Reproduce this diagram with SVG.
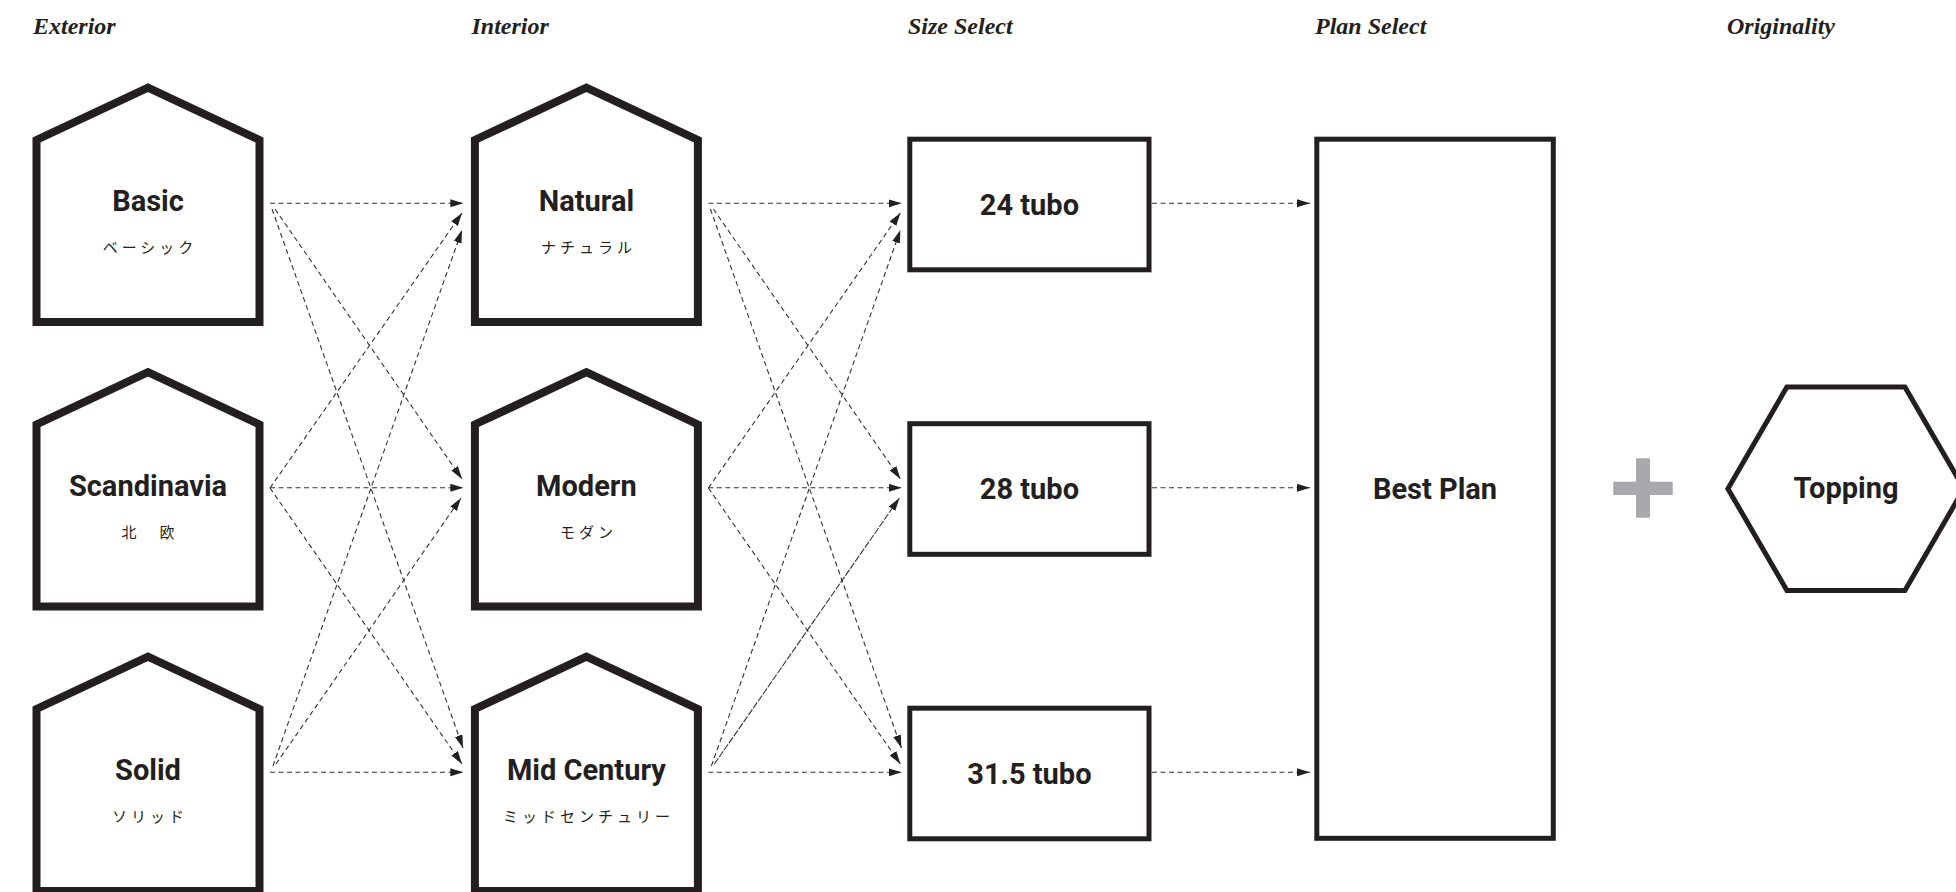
<svg xmlns="http://www.w3.org/2000/svg" width="1956" height="892" viewBox="0 0 1956 892">
<defs>
<style>
.title{font-family:"Liberation Serif",serif;font-style:italic;font-weight:700;font-size:24px;fill:#231f20}
.house{fill:#fff;stroke:#231f20;stroke-width:8;stroke-linejoin:miter}
.box{fill:#fff;stroke:#231f20;stroke-width:5}
.name{font-family:Roboto,"Noto Sans",sans-serif;font-weight:700;font-size:29px;fill:#231f20;text-anchor:middle}
.size{font-family:Roboto,"Noto Sans",sans-serif;font-weight:700;font-size:29px;fill:#231f20;text-anchor:middle}
.jp{font-family:"Noto Sans CJK JP",sans-serif;font-size:15px;letter-spacing:4px;fill:#231f20;text-anchor:middle}
.con line{stroke:#333;stroke-width:1.1;stroke-dasharray:5 3.5;fill:none}
.con line.dense{stroke-dasharray:7 1.5}
</style>
<marker id="arr" markerUnits="userSpaceOnUse" markerWidth="14" markerHeight="9" refX="13" refY="4" orient="auto">
<path d="M0,0 L13,4 L0,8 Z" fill="#231f20"/>
</marker>
<path id="housepath" d="M-111.5,322 V140 L0,87.7 L111.5,140 V322 Z"/>
</defs>
<rect width="1956" height="892" fill="#fff"/>

<g id="titles">
<text class="title" x="33" y="34">Exterior</text>
<text class="title" x="471.5" y="34">Interior</text>
<text class="title" x="908" y="34">Size Select</text>
<text class="title" x="1315" y="34">Plan Select</text>
<text class="title" x="1727" y="34">Originality</text>
</g>

<g id="connectors" class="con">
<!-- stage 1 -->
<line x1="270" y1="203.3" x2="463.3" y2="203.3" marker-end="url(#arr)"/>
<line x1="270" y1="487.8" x2="463.3" y2="487.8" marker-end="url(#arr)"/>
<line x1="270" y1="772.3" x2="463.3" y2="772.3" marker-end="url(#arr)"/>
<line x1="275" y1="209" x2="462" y2="479" marker-end="url(#arr)"/>
<line x1="272" y1="209" x2="463" y2="748" marker-end="url(#arr)"/>
<line x1="270" y1="488" x2="462" y2="213" marker-end="url(#arr)"/>
<line x1="270" y1="488" x2="462" y2="764" marker-end="url(#arr)"/>
<line x1="273" y1="766" x2="462" y2="230" marker-end="url(#arr)"/>
<line x1="276" y1="764" x2="461" y2="498" marker-end="url(#arr)"/>
<!-- stage 2 -->
<line x1="708.4" y1="203.3" x2="901.7" y2="203.3" marker-end="url(#arr)"/>
<line x1="708.4" y1="487.8" x2="901.7" y2="487.8" marker-end="url(#arr)"/>
<line x1="708.4" y1="772.3" x2="901.7" y2="772.3" marker-end="url(#arr)"/>
<line x1="713.4" y1="209" x2="900.4" y2="479" marker-end="url(#arr)"/>
<line x1="710.4" y1="209" x2="901.4" y2="748" marker-end="url(#arr)"/>
<line x1="708.4" y1="488" x2="900.4" y2="213" marker-end="url(#arr)"/>
<line x1="708.4" y1="488" x2="900.4" y2="764" marker-end="url(#arr)"/>
<line x1="711.4" y1="766" x2="900.4" y2="230" marker-end="url(#arr)"/>
<line class="dense" x1="714.4" y1="764" x2="899.4" y2="498" marker-end="url(#arr)"/>
<!-- stage 3 -->
<line x1="1152" y1="203.3" x2="1310" y2="203.3" marker-end="url(#arr)"/>
<line x1="1152" y1="487.8" x2="1310" y2="487.8" marker-end="url(#arr)"/>
<line x1="1152" y1="772.3" x2="1310" y2="772.3" marker-end="url(#arr)"/>
</g>

<g id="node-basic" transform="translate(148,0)">
<use href="#housepath" class="house"/>
<text class="name" x="0" y="211">Basic</text>
<text class="jp" x="2" y="253">ベーシック</text>
</g>
<g id="node-scandinavia" transform="translate(148,284.5)">
<use href="#housepath" class="house"/>
<text class="name" x="0" y="211">Scandinavia</text>
<text class="jp" x="2" y="253">北　欧</text>
</g>
<g id="node-solid" transform="translate(148,569)">
<use href="#housepath" class="house"/>
<text class="name" x="0" y="211">Solid</text>
<text class="jp" x="2" y="253">ソリッド</text>
</g>

<g id="node-natural" transform="translate(586.4,0)">
<use href="#housepath" class="house"/>
<text class="name" x="0" y="211">Natural</text>
<text class="jp" x="2" y="253">ナチュラル</text>
</g>
<g id="node-modern" transform="translate(586.4,284.5)">
<use href="#housepath" class="house"/>
<text class="name" x="0" y="211">Modern</text>
<text class="jp" x="2" y="253">モダン</text>
</g>
<g id="node-midcentury" transform="translate(586.4,569)">
<use href="#housepath" class="house"/>
<text class="name" x="0" y="211">Mid Century</text>
<text class="jp" x="2" y="253">ミッドセンチュリー</text>
</g>

<g id="node-24tubo">
<rect class="box" x="909.8" y="139.2" width="239.2" height="130.6"/>
<text class="size" x="1029.4" y="214.5">24 tubo</text>
</g>
<g id="node-28tubo">
<rect class="box" x="909.8" y="423.7" width="239.2" height="130.6"/>
<text class="size" x="1029.4" y="499">28 tubo</text>
</g>
<g id="node-315tubo">
<rect class="box" x="909.8" y="708.2" width="239.2" height="130.6"/>
<text class="size" x="1029.4" y="783.5">31.5 tubo</text>
</g>

<g id="node-bestplan">
<rect class="box" x="1316.8" y="139.2" width="236.5" height="699.1"/>
<text class="name" x="1435" y="498.5">Best Plan</text>
</g>

<g id="plus" fill="#a7a9ac">
<rect x="1613.3" y="481.7" width="59.4" height="13.3"/>
<rect x="1636" y="458.3" width="14" height="59.4"/>
</g>

<g id="node-topping">
<polygon class="box" points="1727.9,488.7 1786.9,387 1904.9,387 1963.9,488.7 1904.9,590.4 1786.9,590.4"/>
<text class="name" x="1846" y="497.7">Topping</text>
</g>
</svg>
